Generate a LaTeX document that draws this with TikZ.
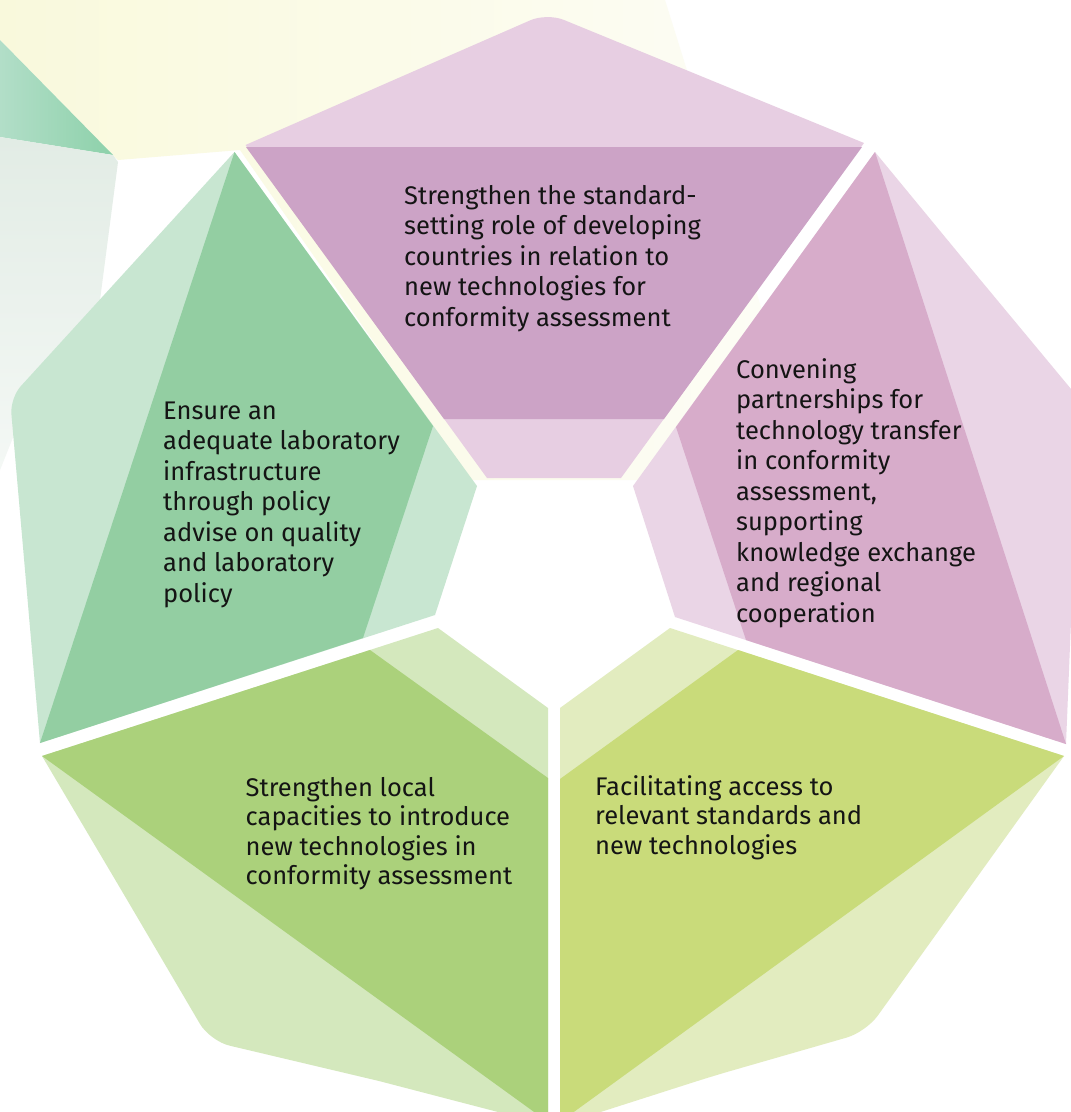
\documentclass[tikz,border=0pt]{standalone}
\usepackage{fontspec}
\setmainfont{Fira Sans}
\definecolor{topL}{HTML}{E7CEE2}
\definecolor{topD}{HTML}{CCA3C6}
\definecolor{rtL}{HTML}{EAD5E6}
\definecolor{rtD}{HTML}{D7ACCA}
\definecolor{ulL}{HTML}{C8E6D1}
\definecolor{ulD}{HTML}{93CEA2}
\definecolor{llL}{HTML}{D4E8BD}
\definecolor{llD}{HTML}{ABD17B}
\definecolor{lrL}{HTML}{E2ECBF}
\definecolor{lrD}{HTML}{C9DB7A}
\definecolor{creamA}{HTML}{F9F9DC}
\definecolor{creamC}{HTML}{FDFDF6}
\definecolor{mintA}{HTML}{B2DEC8}
\definecolor{mintB}{HTML}{8DD1AA}
\definecolor{greyA}{HTML}{E2ECE5}
\definecolor{greyB}{HTML}{F4F8F5}
\definecolor{txtc}{HTML}{141414}
\begin{document}
\begin{tikzpicture}[x=1pt,y=-1pt,
  txt/.style={anchor=base west, align=left, inner sep=0pt, text=txtc,
    font=\fontsize{25.5}{30.5}\selectfont},
  txtb/.style={txt, font=\fontsize{25.5}{29.5}\selectfont}]
\useasboundingbox (0,0) rectangle (1071,1112);
\clip (0,0) rectangle (1071,1112);
\fill[white] (0,0) rectangle (1071,1112);
% background decorations
\shade[left color=creamA, right color=creamC]
  (0,0) -- (665,0) -- (790,400) -- (640,480) -- (470,480) -- (240,150)
  -- (118,160) -- (113,155) -- (0,40) -- cycle;
\shade[left color=mintA, right color=mintB] (0,40) -- (113,155) -- (0,137) -- cycle;
\shade[top color=greyA, bottom color=greyB]
  (0,137) -- (113,155) -- (118,162) -- (100,300) -- (40,370) -- (0,470) -- cycle;
% top segment
\fill[topL] (487,478) -- (245.5,145) -- (396,79) [rounded corners=18] -- (547,13)
  -- (705.5,78) [sharp corners] -- (864,143) -- (621,478) -- cycle;
\fill[topD] (246,147) -- (862,147) -- (664,419) -- (444,419) -- cycle;
% upper-left segment
\fill[ulL] (477,486) -- (234.5,152) -- (167,226) [rounded corners=16] -- (10,398)
  -- (25,570) [sharp corners] -- (40,743) -- (435,615) -- cycle;
\fill[ulD] (234.5,152) -- (433,426) -- (363,638) -- (40,743) -- cycle;
% right segment
\fill[rtL] (633,486) -- (875,152) -- (978,277) [rounded corners=16] -- (1081,401)
  -- (1073,572) [sharp corners] -- (1066,744) -- (675,617) -- cycle;
\fill[rtD] (875,152) -- (1066,744) -- (746,640) -- (676,427) -- cycle;
% lower-left segment
\fill[llL] (438,628) -- (548,708) -- (548,1125) -- (379,1081) [rounded corners=20]
  -- (210,1041) -- (126,898) [sharp corners] -- (42,756) -- cycle;
\fill[llD] (42,756) -- (370,650) -- (548,778) -- (548,1122) -- cycle;
% lower-right segment
\fill[lrL] (560,708) -- (670,628) -- (1064,756) -- (965,894) [rounded corners=20]
  -- (866,1032) -- (713,1076) [sharp corners] -- (560,1125) -- cycle;
\fill[lrD] (560,779) -- (738,650) -- (1064,756) -- (560,1122) -- cycle;
% texts (anchor = baseline of the last line)
\node[txt] (ttop) at (404,326.3) {Strengthen the standard-\\setting role of developing\\countries in relation to\\new technologies for\\conformity assessment};
\node[txt] (tul) at (163,602.3) {Ensure an\\adequate laboratory\\infrastructure\\through policy\\advise on quality\\and laboratory\\policy};
\node[txt] (trt) at (736,622) {Convening\\partnerships for\\technology transfer\\in conformity\\assessment,\\supporting\\knowledge exchange\\and regional\\cooperation};
\node[txtb] (tll) at (245.5,884.5) {Strengthen local\\capacities to introduce\\new technologies in\\conformity assessment};
\node[txtb] (tlr) at (595,854) {Facilitating access to\\relevant standards and\\new technologies};
\end{tikzpicture}
\end{document}
